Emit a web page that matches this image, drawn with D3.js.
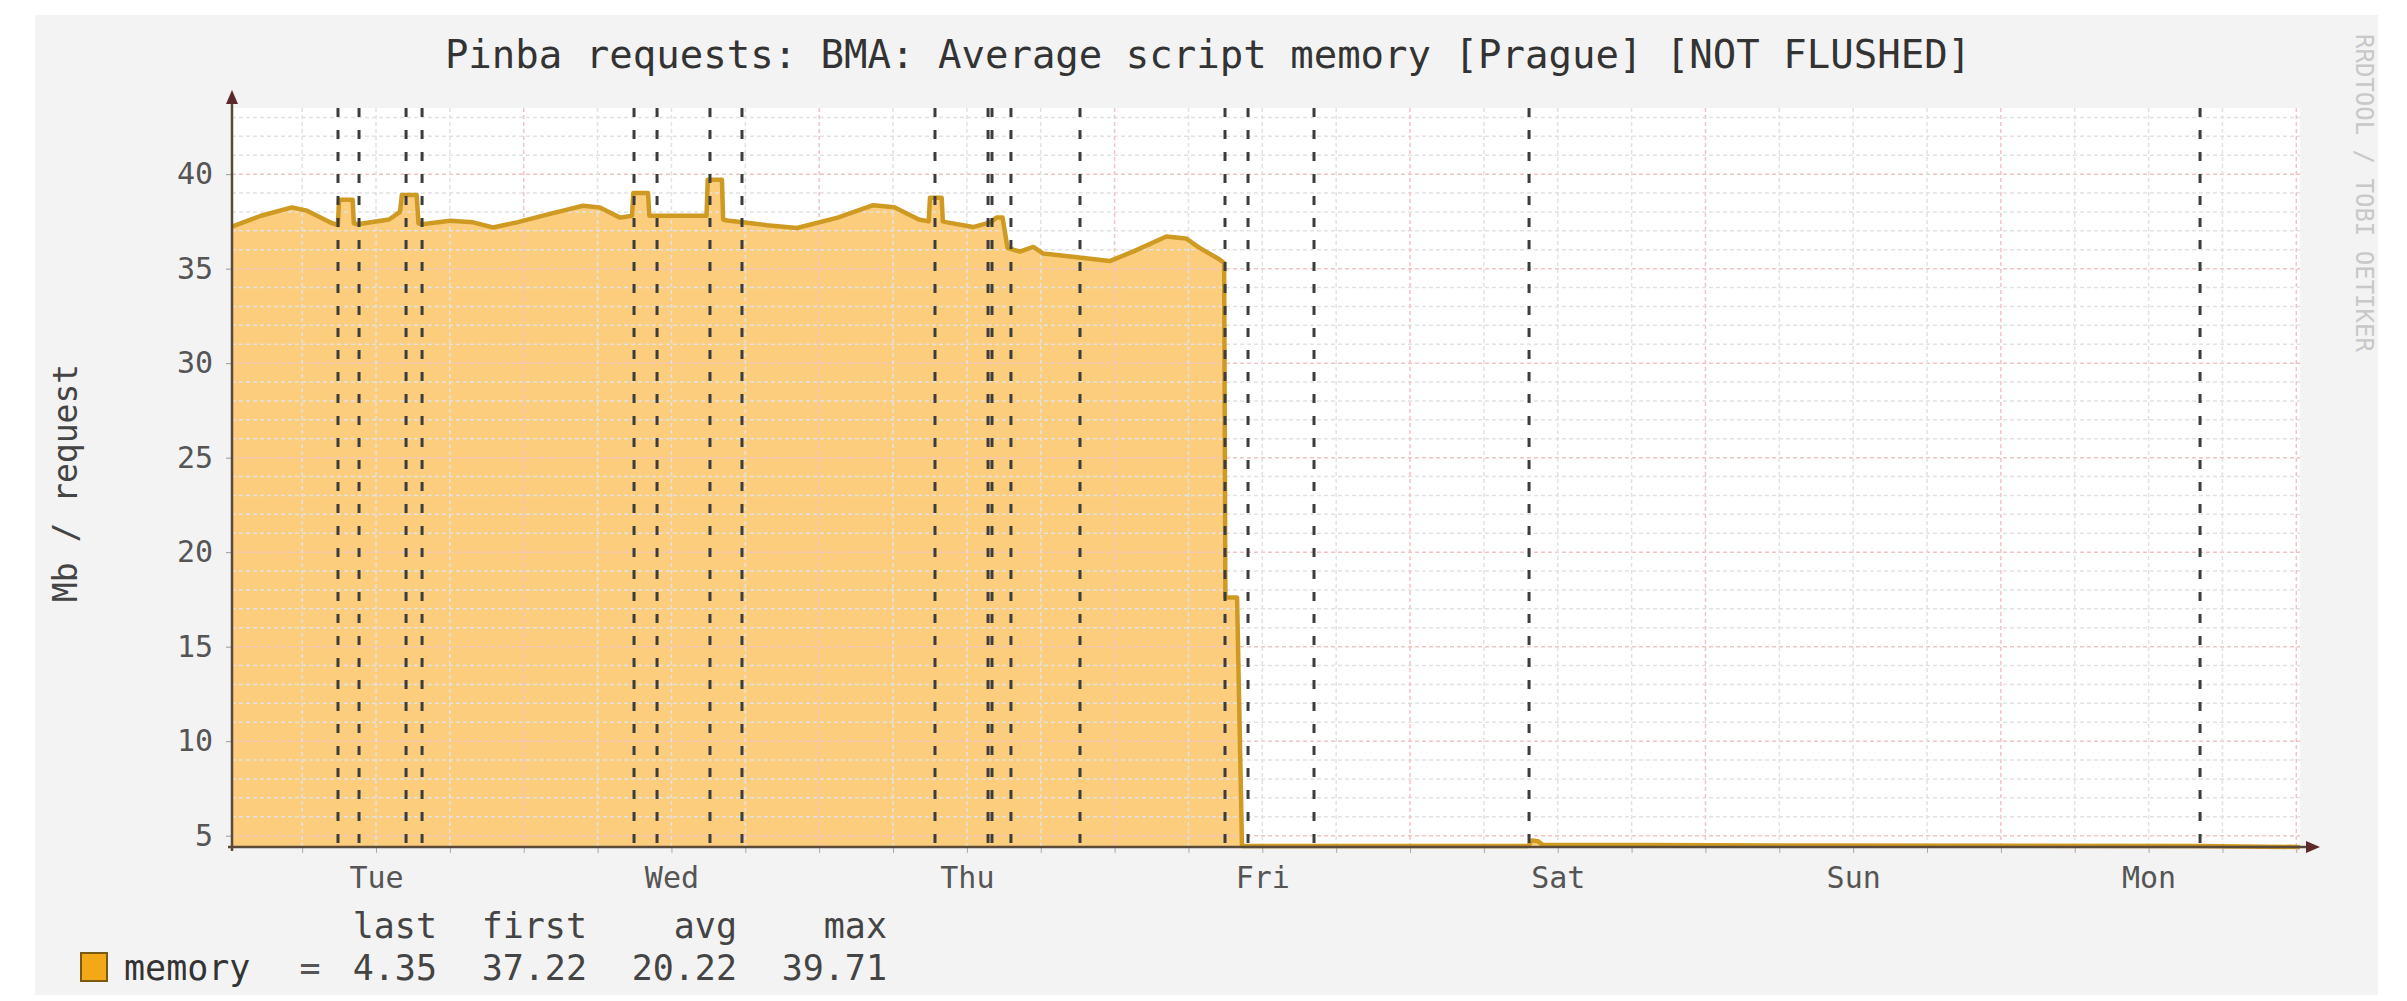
<!DOCTYPE html>
<html>
<head>
<meta charset="utf-8">
<script src="https://cdn.jsdelivr.net/npm/d3@7"></script>
<style>
  body { margin: 0; background: #fff; }
  text { font-family: "DejaVu Sans Mono", monospace; }
</style>
</head>
<body>
<div id="chart"></div>
<script>
// hours since Tuesday 00:00, and the average script memory (Mb / request)
const hours = [0.3, 2.66, 5.17, 6.39, 8.26, 8.9, 9.0, 10.1, 10.2, 10.5,
               13.06, 13.95, 14.1, 15.3, 15.45, 15.74, 18.02, 19.89, 21.5, 23.45,
               26.13, 28.81, 30.19, 31.82, 32.8, 32.9, 34.1, 34.2, 38.85, 38.95,
               40.1, 40.2, 40.5, 41.8, 43.75, 46.2, 49.5, 52.4, 54.1, 56.1,
               56.9, 57.0, 57.95, 58.05, 58.4, 60.5, 61.9, 62.4, 62.9, 63.3,
               64.3, 65.4, 66.2, 68.95, 71.6, 73.5, 76.2, 77.8, 78.9, 80.5,
               80.9, 81.0, 81.95, 82.35, 90, 100, 105.6, 105.9, 106.4, 106.8,
               115, 130, 145, 160, 168.3];
const memory = [37.22, 37.8, 38.24, 38.06, 37.45, 37.3, 38.65, 38.65, 37.4, 37.35,
                37.6, 38.0, 38.9, 38.9, 37.4, 37.35, 37.53, 37.45, 37.18, 37.45,
                37.9, 38.33, 38.24, 37.7, 37.8, 39.0, 39.0, 37.8, 37.8, 39.71,
                39.71, 37.6, 37.55, 37.45, 37.3, 37.15, 37.7, 38.36, 38.25, 37.6,
                37.5, 38.75, 38.75, 37.5, 37.45, 37.2, 37.45, 37.7, 37.7, 36.1,
                35.9, 36.15, 35.8, 35.6, 35.4, 35.9, 36.7, 36.6, 36.1, 35.5,
                35.3, 17.6, 17.6, 4.45, 4.45, 4.45, 4.45, 4.75, 4.7, 4.5,
                4.5, 4.48, 4.47, 4.45, 4.4];

// dashed event markers (hours)
const eventHours = [8.91, 10.62, 14.44, 15.74, 32.96, 34.83, 39.13, 41.73, 57.41,
                    61.72, 62.04, 63.58, 69.19, 80.97, 82.84, 88.2, 105.67, 160.18];

const dayLabels = ["Tue", "Wed", "Thu", "Fri", "Sat", "Sun", "Mon"];
const dayLabelHours = [12, 36, 60, 84, 108, 132, 156];
const yTicks = [5, 10, 15, 20, 25, 30, 35, 40];

const seriesName = "memory";
const statNames = ["last", "first", "avg", "max"];
const statValues = [4.35, 37.22, 20.22, 39.71];

const W = 2407, H = 1001;
const plot = { left: 232, right: 2300, top: 108, bottom: 847 };

const svg = d3.select("#chart").append("svg")
    .attr("width", W)
    .attr("height", H);

svg.append("rect")
    .attr("x", 35).attr("y", 15)
    .attr("width", 2343).attr("height", 980)
    .attr("fill", "#f3f3f3");

svg.append("rect")
    .attr("x", plot.left).attr("y", plot.top)
    .attr("width", plot.right - plot.left).attr("height", plot.bottom - plot.top)
    .attr("fill", "#fff");

const x = d3.scaleLinear().domain([0.3, 168.3]).range([plot.left, plot.right]);
const y = d3.scaleLinear().domain([4.4, 43.5]).range([plot.bottom, plot.top]);

const data = hours.map((h, i) => ({ h: h, v: memory[i] }));

// area
svg.append("path")
    .datum(data)
    .attr("fill", "#fbcd7d")
    .attr("d", d3.area().x(d => x(d.h)).y0(plot.bottom).y1(d => y(d.v)));

// grid, drawn over the area as rrdtool does
const grid = svg.append("g");
d3.range(5, 44, 1).forEach(v => {
    grid.append("line")
        .attr("x1", plot.left).attr("x2", plot.right)
        .attr("y1", y(v)).attr("y2", y(v))
        .attr("stroke", v % 5 === 0 ? "#f0c4c4" : "#e2e2e2")
        .attr("stroke-width", 1.5)
        .attr("stroke-dasharray", "4,3");
});
d3.range(6, 168.3, 6).forEach(h => {
    grid.append("line")
        .attr("x1", x(h)).attr("x2", x(h))
        .attr("y1", plot.top).attr("y2", plot.bottom)
        .attr("stroke", h % 24 === 0 ? "#f0c4c4" : "#e2e2e2")
        .attr("stroke-width", 1.5)
        .attr("stroke-dasharray", "4,3");
});

// line
svg.append("path")
    .datum(data)
    .attr("fill", "none")
    .attr("stroke", "#cf9a22")
    .attr("stroke-width", 4.5)
    .attr("stroke-linejoin", "round")
    .attr("d", d3.line().x(d => x(d.h)).y(d => y(d.v)));

// event rules
svg.selectAll(".vrule").data(eventHours).enter().append("line")
    .attr("class", "vrule")
    .attr("x1", d => x(d)).attr("x2", d => x(d))
    .attr("y1", plot.top).attr("y2", plot.bottom)
    .attr("stroke", "#3c3c3c")
    .attr("stroke-width", 3)
    .attr("stroke-dasharray", "9,13");

// axes
const yAxis = svg.append("g")
    .attr("transform", `translate(${plot.left},0)`)
    .call(d3.axisLeft(y).tickValues(yTicks).tickSize(6).tickPadding(13));
yAxis.select(".domain").remove();
yAxis.selectAll("line").attr("stroke", "#999");
yAxis.selectAll("text")
    .attr("font-size", 30)
    .attr("fill", "#555")
    .style("font-family", "'DejaVu Sans Mono', monospace");

const xMinor = svg.append("g")
    .attr("transform", `translate(0,${plot.bottom})`)
    .call(d3.axisBottom(x).tickValues(d3.range(6, 168.3, 6)).tickSize(6).tickFormat(""));
xMinor.select(".domain").remove();
xMinor.selectAll("line").attr("stroke", "#aaa");

const xAxis = svg.append("g")
    .attr("transform", `translate(0,${plot.bottom})`)
    .call(d3.axisBottom(x).tickValues(dayLabelHours).tickSize(0).tickPadding(20)
        .tickFormat((d, i) => dayLabels[i]));
xAxis.select(".domain").remove();
xAxis.selectAll("text")
    .attr("font-size", 30)
    .attr("fill", "#555")
    .style("font-family", "'DejaVu Sans Mono', monospace");

// axis lines with arrows
svg.append("line")
    .attr("x1", plot.left - 4).attr("x2", plot.right + 10)
    .attr("y1", plot.bottom).attr("y2", plot.bottom)
    .attr("stroke", "#5a4a3a").attr("stroke-width", 2.5);
svg.append("path")
    .attr("d", `M${plot.right + 6},${plot.bottom - 6}L${plot.right + 20},${plot.bottom}L${plot.right + 6},${plot.bottom + 6}Z`)
    .attr("fill", "#5c2a2a");
svg.append("line")
    .attr("x1", plot.left).attr("x2", plot.left)
    .attr("y1", plot.bottom + 4).attr("y2", plot.top - 8)
    .attr("stroke", "#5a4a3a").attr("stroke-width", 2.5);
svg.append("path")
    .attr("d", `M${plot.left - 6},${plot.top - 4}L${plot.left},${plot.top - 18}L${plot.left + 6},${plot.top - 4}Z`)
    .attr("fill", "#5c2a2a");

// title
svg.append("text")
    .attr("x", 1208).attr("y", 68)
    .attr("text-anchor", "middle")
    .attr("font-size", 39)
    .attr("fill", "#333")
    .text("Pinba requests: BMA: Average script memory [Prague] [NOT FLUSHED]");

// y label
svg.append("text")
    .attr("transform", "translate(77,483) rotate(-90)")
    .attr("text-anchor", "middle")
    .attr("font-size", 33)
    .attr("fill", "#444")
    .text("Mb / request");

// watermark
svg.append("text")
    .attr("transform", "translate(2356,34) rotate(90)")
    .attr("font-size", 24)
    .attr("fill", "#c8c8c8")
    .text("RRDTOOL / TOBI OETIKER");

// legend
const statX = [437, 587, 737, 887];
svg.append("rect")
    .attr("x", 81).attr("y", 953)
    .attr("width", 26).attr("height", 28)
    .attr("fill", "#f2a818")
    .attr("stroke", "#7a5a12")
    .attr("stroke-width", 2);
svg.append("text")
    .attr("x", 124).attr("y", 980)
    .attr("font-size", 35)
    .attr("fill", "#333")
    .text(seriesName);
svg.append("text")
    .attr("x", 310).attr("y", 980)
    .attr("text-anchor", "middle")
    .attr("font-size", 35)
    .attr("fill", "#555")
    .text("=");
svg.selectAll(".stat-name").data(statNames).enter().append("text")
    .attr("class", "stat-name")
    .attr("x", (d, i) => statX[i]).attr("y", 938)
    .attr("text-anchor", "end")
    .attr("font-size", 35)
    .attr("fill", "#444")
    .text(d => d);
svg.selectAll(".stat-value").data(statValues).enter().append("text")
    .attr("class", "stat-value")
    .attr("x", (d, i) => statX[i]).attr("y", 980)
    .attr("text-anchor", "end")
    .attr("font-size", 35)
    .attr("fill", "#444")
    .text(d => d3.format(".2f")(d));
</script>
</body>
</html>
